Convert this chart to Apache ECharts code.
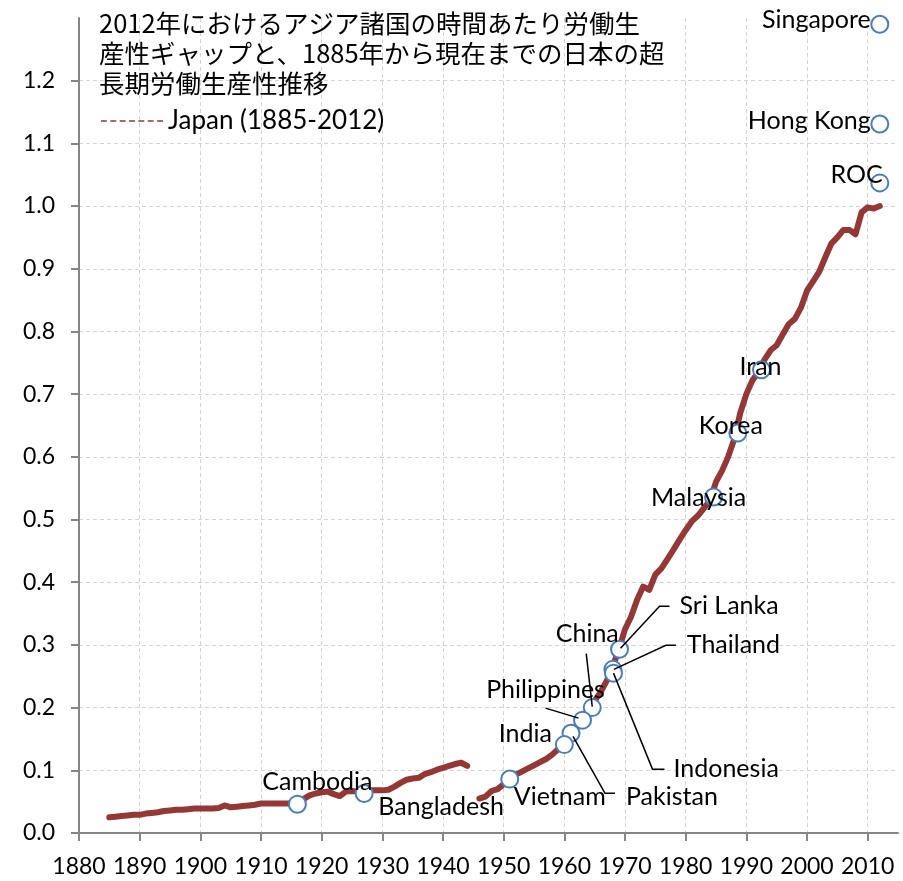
<!DOCTYPE html>
<html>
<head>
<meta charset="utf-8">
<script src="https://cdn.jsdelivr.net/npm/echarts@6/dist/echarts.min.js"></script>
<style>
  html, body { margin: 0; padding: 0; background: #fff; }
  #chart { width: 903px; height: 881px; }
</style>
</head>
<body>
<div id="chart"></div>
<script>
// Japan, labour productivity per hour (2012 = 1.0)
const japanYears = [
  1885, 1886, 1887, 1888, 1889, 1890, 1891, 1892, 1893, 1894,
  1895, 1896, 1897, 1898, 1899, 1900, 1901, 1902, 1903, 1904,
  1905, 1906, 1907, 1908, 1909, 1910, 1911, 1912, 1913, 1914,
  1915, 1916, 1917, 1918, 1919, 1920, 1921, 1922, 1923, 1924,
  1925, 1926, 1927, 1928, 1929, 1930, 1931, 1932, 1933, 1934,
  1935, 1936, 1937, 1938, 1939, 1940, 1941, 1942, 1943, 1944,
  1945,
  1946, 1947, 1948, 1949, 1950, 1951, 1952, 1953, 1954, 1955,
  1956, 1957, 1958, 1959, 1960, 1961, 1962, 1963, 1964, 1965,
  1966, 1967, 1968, 1969, 1970, 1971, 1972, 1973, 1974, 1975,
  1976, 1977, 1978, 1979, 1980, 1981, 1982, 1983, 1984, 1985,
  1986, 1987, 1988, 1989, 1990, 1991, 1992, 1993, 1994, 1995,
  1996, 1997, 1998, 1999, 2000, 2001, 2002, 2003, 2004, 2005,
  2006, 2007, 2008, 2009, 2010, 2011, 2012
]
const japanValues = [
  0.025, 0.026, 0.027, 0.028, 0.029, 0.029, 0.031, 0.032, 0.033, 0.035,
  0.036, 0.037, 0.037, 0.038, 0.039, 0.039, 0.039, 0.039, 0.040, 0.044,
  0.041, 0.042, 0.043, 0.044, 0.045, 0.047, 0.047, 0.047, 0.047, 0.047,
  0.047, 0.048, 0.054, 0.060, 0.063, 0.065, 0.066, 0.062, 0.059, 0.066,
  0.067, 0.066, 0.066, 0.068, 0.068, 0.068, 0.069, 0.074, 0.080, 0.085,
  0.087, 0.088, 0.094, 0.097, 0.101, 0.104, 0.107, 0.110, 0.112, 0.107,
  null,
  0.055, 0.058, 0.067, 0.070, 0.078, 0.087, 0.093, 0.098, 0.103, 0.108,
  0.113, 0.118, 0.125, 0.134, 0.145, 0.162, 0.171, 0.182, 0.195, 0.211,
  0.225, 0.243, 0.266, 0.293, 0.325, 0.345, 0.372, 0.393, 0.388, 0.412,
  0.422, 0.437, 0.452, 0.468, 0.483, 0.497, 0.506, 0.518, 0.530, 0.560,
  0.578, 0.600, 0.628, 0.670, 0.700, 0.722, 0.735, 0.755, 0.770, 0.778,
  0.795, 0.812, 0.820, 0.838, 0.865, 0.880, 0.895, 0.918, 0.940, 0.950,
  0.962, 0.962, 0.955, 0.990, 0.998, 0.996, 1.000
]

// Asian countries in 2012, placed at the year Japan had the same level
const countryNames = [
  'Singapore', 'Hong Kong', 'ROC', 'Iran', 'Korea', 'Malaysia',
  'Sri Lanka', 'Thailand', 'Indonesia', 'China', 'Philippines',
  'Pakistan', 'India', 'Vietnam', 'Bangladesh', 'Cambodia'
]
const countryYears = [
  2012, 2012, 2012, 1992.5, 1988.6, 1984.6,
  1969.1, 1968.0, 1968.1, 1964.6, 1963.0,
  1961.1, 1960.0, 1951.0, 1927.0, 1916.0
]
const countryValues = [
  1.290, 1.131, 1.037, 0.739, 0.638, 0.536,
  0.293, 0.261, 0.255, 0.200, 0.180,
  0.159, 0.141, 0.086, 0.063, 0.046
]

const xTicks = [1880, 1890, 1900, 1910, 1920, 1930, 1940, 1950, 1960, 1970, 1980, 1990, 2000, 2010]
const yTicks = [0, 0.1, 0.2, 0.3, 0.4, 0.5, 0.6, 0.7, 0.8, 0.9, 1.0, 1.1, 1.2]

const titleText = '2012年におけるアジア諸国の時間あたり労働生\n産性ギャップと、1885年から現在までの日本の超\n長期労働生産性推移'
const seriesName = 'Japan (1885-2012)'

// label placement: [dx, dy, align] from circle centre, in px
const labelPlace = {
  'Singapore': [-9, -4, 'right'],
  'Hong Kong': [-9, -3, 'right'],
  'ROC': [3, -8, 'right'],
  'Iran': [-1, -3, 'center'],
  'Korea': [-7, -7, 'center'],
  'Malaysia': [-15, 1, 'center'],
  'Sri Lanka': [60, -43, 'left'],
  'Thailand': [74, -24, 'left'],
  'Indonesia': [60, 96, 'left'],
  'China': [-5, -74, 'center'],
  'Philippines': [-37, -30, 'center'],
  'Pakistan': [55, 64, 'left'],
  'India': [-39, -11, 'center'],
  'Vietnam': [50, 18, 'center'],
  'Bangladesh': [77, 13, 'center'],
  'Cambodia': [20, -22, 'center']
}

// leader lines, px offsets from circle centre
const leaders = {
  'Sri Lanka': [[1, -1], [40, -43], [50, -43]],
  'Thailand': [[1, 0], [53, -24], [63, -24]],
  'Indonesia': [[0, 0], [39, 96], [51, 96]],
  'China': [[-6, -54], [0, -1]],
  'Philippines': [[-37, -12], [-4, -2]],
  'Pakistan': [[2, 3], [34, 60], [44, 60]]
}

const latin = 'Lato, "Noto Sans", sans-serif'

const chart = echarts.init(document.getElementById('chart'))

const japanData = japanYears.map((y, i) => [y, japanValues[i]])
const countryData = countryNames.map((n, i) => {
  const p = labelPlace[n]
  return {
    name: n,
    value: [countryYears[i], countryValues[i]],
    label: { offset: [p[0], p[1]], align: p[2] }
  }
})

const option = {
  animation: false,
  backgroundColor: '#fff',
  title: {
    text: titleText,
    left: 94,
    top: 3,
    textStyle: {
      fontFamily: '"Noto Sans CJK JP", sans-serif',
      fontSize: 25.5,
      fontWeight: 'normal',
      lineHeight: 30,
      color: '#000'
    }
  },
  legend: {
    left: 96,
    top: 103,
    itemWidth: 62,
    itemHeight: 3,
    itemGap: 9,
    data: [{
      name: seriesName,
      icon: 'path://M0,0h6v1.5h-6zM9.5,0h6v1.5h-6zM19,0h6v1.5h-6zM28.5,0h6v1.5h-6zM38,0h6v1.5h-6zM47.5,0h6v1.5h-6zM57,0h6v1.5h-6z'
    }],
    itemStyle: { color: '#953735', opacity: 1 },
    textStyle: { fontFamily: latin, fontSize: 26, color: '#000' }
  },
  grid: { left: 79, right: 5, top: 18, bottom: 48 },
  xAxis: {
    type: 'value',
    min: 1880,
    max: 2015,
    interval: 10,
    axisLine: { lineStyle: { color: '#868686', width: 2 } },
    axisTick: { show: true, length: 8, lineStyle: { color: '#868686', width: 2 }, customValues: xTicks },
    axisLabel: {
      customValues: xTicks,
      fontFamily: latin,
      fontSize: 23,
      color: '#000',
      margin: 22,
      formatter: v => String(v)
    },
    splitLine: { show: true, lineStyle: { color: '#d4d4d4', type: [4, 3], width: 1 } }
  },
  yAxis: {
    type: 'value',
    min: 0,
    max: 1.3,
    interval: 0.1,
    axisLine: { show: true, lineStyle: { color: '#868686', width: 2 } },
    axisTick: { show: true, length: 8, lineStyle: { color: '#868686', width: 2 }, customValues: yTicks },
    axisLabel: {
      customValues: yTicks,
      fontFamily: latin,
      fontSize: 23,
      color: '#000',
      margin: 24,
      formatter: v => v.toFixed(1)
    },
    splitLine: { show: true, lineStyle: { color: '#d4d4d4', type: [4, 3], width: 1 } }
  },
  series: [
    {
      name: seriesName,
      type: 'line',
      data: japanData,
      showSymbol: false,
      connectNulls: false,
      color: '#953735',
      lineStyle: { width: 6, color: '#953735', cap: 'round', join: 'round' },
      z: 2
    },
    {
      name: 'countries',
      type: 'scatter',
      data: countryData,
      symbol: 'circle',
      symbolSize: 17,
      itemStyle: { color: '#fff', borderColor: '#4a7ebb', borderWidth: 2, opacity: 1 },
      label: {
        show: true,
        position: 'inside',
        formatter: '{b}',
        fontFamily: latin,
        fontSize: 25,
        color: '#000',
        verticalAlign: 'middle'
      },
      emphasis: { disabled: true },
      z: 3
    }
  ]
}

chart.setOption(option)

// draw leader lines from the circles to their labels
const lines = []
countryNames.forEach((n, i) => {
  const offs = leaders[n]
  if (!offs) return
  const c = chart.convertToPixel({ seriesIndex: 1 }, [countryYears[i], countryValues[i]])
  lines.push({
    type: 'polyline',
    z: 100,
    shape: { points: offs.map(o => [c[0] + o[0], c[1] + o[1]]) },
    style: { stroke: '#000', lineWidth: 1.5, fill: null }
  })
})
chart.setOption({ graphic: lines })
</script>
</body>
</html>
